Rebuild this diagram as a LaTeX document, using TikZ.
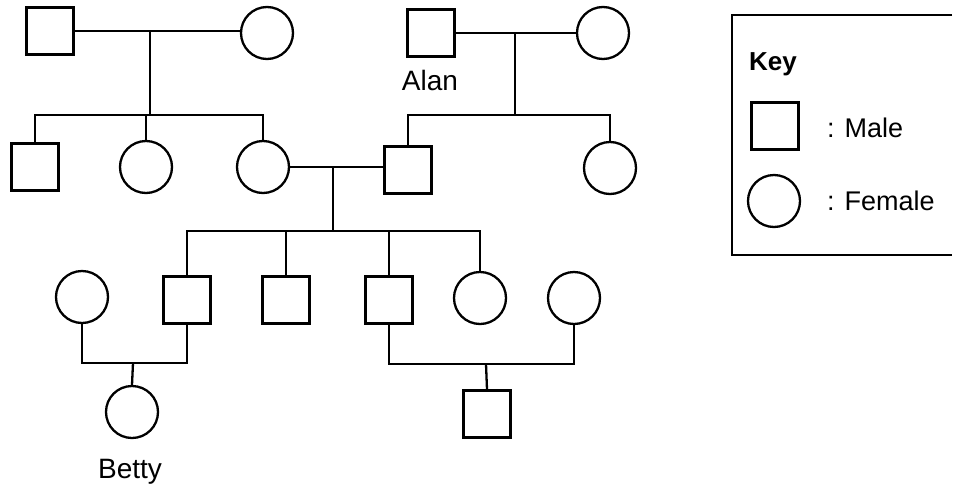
\documentclass[tikz,border=0pt]{standalone}
\usepackage{fontspec}
\setmainfont{Liberation Sans}
\begin{document}
\begin{tikzpicture}[x=1pt,y=-1pt,
  male/.style={draw,line width=2.1pt,rectangle,minimum size=47pt,inner sep=0pt},
  female/.style={draw,line width=2.3pt,circle,minimum size=52pt,inner sep=0pt},
  link/.style={line width=2.3pt},
  lbl/.style={font=\fontsize{28}{30}\selectfont,anchor=base,inner sep=0pt},
  keytxt/.style={font=\fontsize{27}{30}\selectfont,anchor=base west,inner sep=0pt}]
\useasboundingbox (0,0) rectangle (957,490);
% generation 1
\node[male] (g1m) at (50,31) {};
\node[female] (g1f) at (267,33) {};
\node[male] (alan) at (431,33) {};
\node[female] (g1f2) at (603,33) {};
\node[lbl] (alanlbl) at (430,90) {Alan};
% generation 2
\node[male] (c1) at (35,167) {};
\node[female] (c2) at (146,167) {};
\node[female] (c3) at (263,167) {};
\node[male] (d1) at (408,170) {};
\node[female] (d2) at (610,168) {};
% generation 3
\node[female] (w1) at (82,297) {};
\node[male] (s1) at (187,300) {};
\node[male] (s2) at (286,300) {};
\node[male] (s3) at (389,300) {};
\node[female] (s4) at (480,298) {};
\node[female] (w2) at (574,298) {};
% generation 4
\node[female] (betty) at (132,412) {};
\node[lbl] (bettylbl) at (130,478) {Betty};
\node[male] (gs) at (487,414) {};
% coordinates
\coordinate (m1) at (150,32);
\coordinate (m1b) at (150,115);
\coordinate (m2) at (515,33);
\coordinate (m2b) at (515,115);
\coordinate (m3) at (333,168);
\coordinate (m3b) at (333,231);
\coordinate (j1m) at (133,363);
\coordinate (j2m) at (486,364);
% family 1
\draw[link] (g1m.east) -- (g1m.east -| g1f.west);
\draw[link] (m1) -- (m1b);
\draw[link] (c1.north) |- (m1b) -| (c3.north);
\draw[link] (m1b -| c2.north) -- (c2.north);
% family 2
\draw[link] (alan.east) -- (g1f2.west);
\draw[link] (m2) -- (m2b);
\draw[link] (d1.north) |- (m2b) -| (d2.north);
% family 3
\draw[link] (c3.east) -- (c3.east -| d1.west);
\draw[link] (m3) -- (m3b);
\draw[link] (s1.north) |- (m3b) -| (s4.north);
\draw[link] (m3b -| s2.north) -- (s2.north);
\draw[link] (m3b -| s3.north) -- (s3.north);
% family 4
\draw[link] (w1.south) |- (j1m) -| (s1.south);
\draw[link] (j1m) -- (betty.north);
% family 5
\draw[link] (s3.south) |- (j2m) -| (w2.south);
\draw[link] (j2m) -- (gs.north);
% key
\draw[line width=1.8pt] (952,15) -- (732,15) -- (732,255) -- (952,255);
\node[keytxt,font=\fontsize{26}{30}\selectfont\bfseries] (keylbl) at (749,70) {Key};
\node[male] (keym) at (775,126) {};
\node[keytxt] (keymtxt) at (827,137) {: Male};
\node[female] (keyf) at (774,201) {};
\node[keytxt] (keyftxt) at (827,210) {: Female};
\end{tikzpicture}
\end{document}
